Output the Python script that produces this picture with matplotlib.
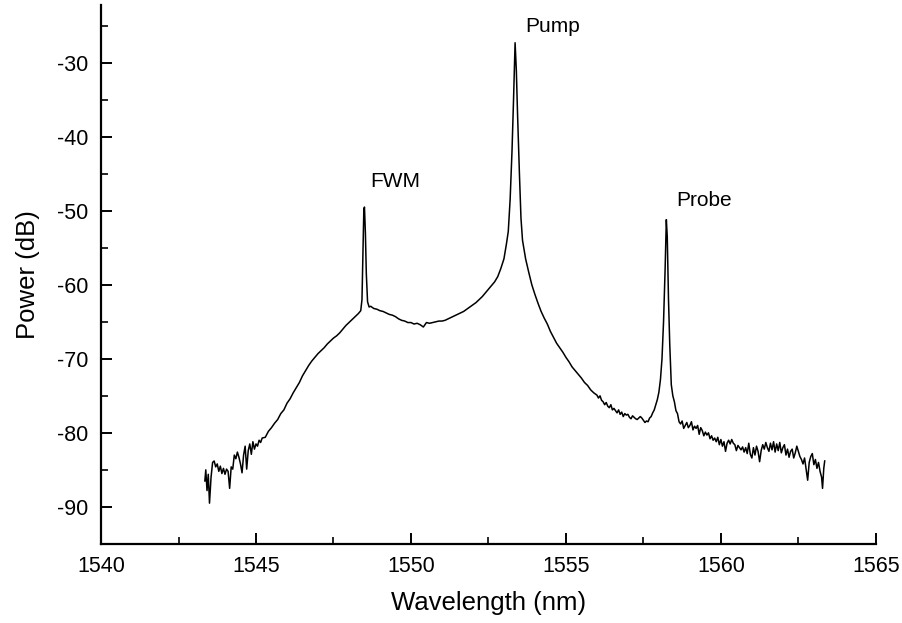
import numpy as np
import matplotlib
matplotlib.use("Agg")
import matplotlib.pyplot as plt
from matplotlib.ticker import MultipleLocator

# ─── Spectrum ────────────────────────────────────────────────────────────────

wavelength = [
    1543.35, 1543.38, 1543.42, 1543.46, 1543.50, 1543.55, 1543.60, 1543.65, 1543.70, 1543.75,
    1543.80, 1543.85, 1543.90, 1543.95, 1544.00, 1544.05, 1544.10, 1544.15, 1544.20, 1544.25,
    1544.30, 1544.35, 1544.40, 1544.45, 1544.50, 1544.55, 1544.60, 1544.65, 1544.70, 1544.75,
    1544.80, 1544.85, 1544.90, 1544.95, 1545.00, 1545.05, 1545.10, 1545.15, 1545.20, 1545.30,
    1545.40, 1545.50, 1545.60, 1545.70, 1545.80, 1545.90, 1546.00, 1546.10, 1546.20, 1546.30,
    1546.40, 1546.50, 1546.60, 1546.70, 1546.80, 1546.90, 1547.00, 1547.10, 1547.20, 1547.30,
    1547.40, 1547.50, 1547.60, 1547.70, 1547.80, 1547.90, 1548.00, 1548.10, 1548.20, 1548.30,
    1548.38, 1548.42, 1548.45, 1548.48, 1548.50, 1548.53, 1548.56, 1548.60, 1548.65, 1548.70,
    1548.80, 1548.90, 1549.00, 1549.10, 1549.20, 1549.30, 1549.40, 1549.50, 1549.60, 1549.70,
    1549.80, 1549.90, 1550.00, 1550.10, 1550.20, 1550.30, 1550.40, 1550.45, 1550.50, 1550.60,
    1550.70, 1550.80, 1550.90, 1551.00, 1551.10, 1551.20, 1551.30, 1551.40, 1551.50, 1551.60,
    1551.70, 1551.80, 1551.90, 1552.00, 1552.10, 1552.20, 1552.30, 1552.40, 1552.50, 1552.60,
    1552.70, 1552.80, 1552.90, 1553.00, 1553.08, 1553.14, 1553.20, 1553.26, 1553.31, 1553.36,
    1553.40, 1553.44, 1553.50, 1553.55, 1553.60, 1553.70, 1553.80, 1553.90, 1554.00, 1554.10,
    1554.20, 1554.30, 1554.40, 1554.50, 1554.60, 1554.70, 1554.80, 1554.90, 1555.00, 1555.10,
    1555.20, 1555.30, 1555.40, 1555.50, 1555.60, 1555.70, 1555.80, 1555.90, 1556.00, 1556.05,
    1556.10, 1556.15, 1556.20, 1556.25, 1556.30, 1556.35, 1556.40, 1556.45, 1556.50, 1556.55,
    1556.60, 1556.65, 1556.70, 1556.75, 1556.80, 1556.85, 1556.90, 1556.95, 1557.00, 1557.05,
    1557.10, 1557.15, 1557.20, 1557.25, 1557.30, 1557.35, 1557.40, 1557.45, 1557.50, 1557.55,
    1557.60, 1557.65, 1557.70, 1557.75, 1557.80, 1557.85, 1557.90, 1557.95, 1558.00, 1558.05,
    1558.10, 1558.15, 1558.20, 1558.24, 1558.27, 1558.31, 1558.35, 1558.40, 1558.45, 1558.50,
    1558.55, 1558.60, 1558.65, 1558.70, 1558.75, 1558.80, 1558.85, 1558.90, 1558.95, 1559.00,
    1559.05, 1559.10, 1559.15, 1559.20, 1559.25, 1559.30, 1559.35, 1559.40, 1559.45, 1559.50,
    1559.55, 1559.60, 1559.65, 1559.70, 1559.75, 1559.80, 1559.85, 1559.90, 1559.95, 1560.00,
    1560.05, 1560.10, 1560.15, 1560.20, 1560.25, 1560.30, 1560.35, 1560.40, 1560.45, 1560.50,
    1560.55, 1560.60, 1560.65, 1560.70, 1560.75, 1560.80, 1560.85, 1560.90, 1560.95, 1561.00,
    1561.05, 1561.10, 1561.15, 1561.20, 1561.25, 1561.30, 1561.35, 1561.40, 1561.45, 1561.50,
    1561.55, 1561.60, 1561.65, 1561.70, 1561.75, 1561.80, 1561.85, 1561.90, 1561.95, 1562.00,
    1562.05, 1562.10, 1562.15, 1562.20, 1562.25, 1562.30, 1562.35, 1562.40, 1562.45, 1562.50,
    1562.55, 1562.60, 1562.65, 1562.70, 1562.75, 1562.80, 1562.85, 1562.90, 1562.95, 1563.00,
    1563.05, 1563.10, 1563.15, 1563.20, 1563.25, 1563.28, 1563.32, 1563.35,
]

power_db = [
    -86.5, -85.0, -87.8, -85.6, -89.5, -86.0, -84.0, -83.8, -84.6, -84.2,
    -85.2, -84.5, -85.5, -84.8, -85.6, -84.9, -85.2, -87.5, -84.6, -84.9,
    -83.0, -83.5, -82.6, -83.3, -84.2, -85.4, -83.0, -81.8, -84.9, -82.4,
    -81.5, -82.9, -81.2, -82.2, -81.5, -81.8, -81.0, -81.3, -80.7, -80.6,
    -79.8, -79.3, -78.7, -78.2, -77.4, -76.9, -76.0, -75.4, -74.6, -73.9,
    -73.2, -72.3, -71.6, -70.9, -70.3, -69.8, -69.3, -68.9, -68.5, -68.0,
    -67.6, -67.2, -66.9, -66.5, -66.0, -65.5, -65.1, -64.7, -64.3, -63.9,
    -63.5, -62.0, -56.0, -49.8, -49.5, -53.0, -58.5, -62.3, -63.0, -62.9,
    -63.2, -63.3, -63.5, -63.6, -63.8, -64.0, -64.1, -64.3, -64.6, -64.8,
    -64.9, -65.1, -65.1, -65.3, -65.2, -65.4, -65.7, -65.4, -65.1, -65.2,
    -65.1, -65.0, -64.9, -64.9, -64.8, -64.6, -64.4, -64.2, -64.0, -63.8,
    -63.6, -63.3, -63.0, -62.7, -62.4, -62.0, -61.6, -61.1, -60.6, -60.1,
    -59.6, -58.9, -57.8, -56.5, -54.5, -52.8, -48.5, -42.0, -35.0, -27.3,
    -31.0, -37.0, -45.0, -51.0, -54.0, -56.5, -58.3, -60.0, -61.3, -62.5,
    -63.6, -64.5, -65.3, -66.3, -67.1, -67.9, -68.5, -69.1, -69.8, -70.4,
    -71.1, -71.6, -72.1, -72.6, -73.2, -73.6, -74.2, -74.6, -74.9, -75.3,
    -75.0, -75.6, -75.8, -76.2, -75.9, -76.4, -76.6, -76.2, -76.9, -76.7,
    -77.0, -77.3, -76.9, -77.5, -77.2, -77.8, -77.4, -77.6, -77.5, -77.9,
    -78.1, -77.7, -77.9, -78.1, -78.2, -78.0, -77.8, -78.0, -78.3, -78.6,
    -78.4, -78.5, -78.0, -77.8, -77.3, -76.9, -76.2, -75.5, -74.5, -72.8,
    -70.0, -65.0, -58.0, -51.2, -53.5, -62.0, -68.0, -73.5, -75.0, -75.8,
    -77.0, -77.4, -78.5, -78.8, -78.4, -79.4, -79.0, -78.6, -79.3, -79.0,
    -78.5, -79.6, -79.1, -79.4, -79.0, -80.2, -79.3, -79.7, -80.4, -79.9,
    -80.3, -80.0, -80.8, -80.4, -81.0, -80.7, -81.2, -80.6, -81.6, -80.9,
    -81.8, -81.2, -82.5, -81.4, -81.0, -81.5, -80.9, -81.4, -81.6, -82.4,
    -81.7, -82.0, -82.3, -81.9, -82.6, -82.0, -82.8, -81.4, -82.9, -83.4,
    -82.0, -83.0, -81.8, -82.5, -83.9, -82.4, -81.6, -82.2, -81.3, -82.0,
    -82.5, -81.4, -82.3, -81.2, -82.6, -81.5, -82.4, -81.3, -82.7, -82.0,
    -81.6, -83.0, -82.2, -83.3, -82.5, -82.2, -83.4, -82.7, -81.8, -82.5,
    -83.2, -83.6, -84.2, -83.4, -84.9, -86.4, -84.0, -83.2, -82.8, -84.3,
    -83.6, -84.8, -84.0, -85.2, -86.0, -87.5, -84.8, -83.8,
]

peak_labels = ["FWM", "Pump", "Probe"]
label_x = [1548.68, 1553.68, 1558.55]
label_y = [-46.8, -25.9, -49.3]

# ─── Figure ──────────────────────────────────────────────────────────────────

plt.rcParams["font.family"] = ["Liberation Sans", "DejaVu Sans"]
plt.rcParams["axes.unicode_minus"] = False

fig = plt.figure(figsize=(9.02, 6.23), dpi=100)
ax = fig.add_axes([0.112, 0.127, 0.859, 0.865])

ax.plot(wavelength, power_db, color="black", lw=1.1)

for txt, x, y in zip(peak_labels, label_x, label_y):
    ax.text(x, y, txt, fontsize=15, ha="left", va="baseline")

ax.set_xlim(1540, 1565)
ax.set_ylim(-95, -22.2)
ax.xaxis.set_major_locator(MultipleLocator(5))
ax.xaxis.set_minor_locator(MultipleLocator(2.5))
ax.yaxis.set_major_locator(MultipleLocator(10))
ax.yaxis.set_minor_locator(MultipleLocator(5))

for side in ("top", "right"):
    ax.spines[side].set_visible(False)
for side in ("left", "bottom"):
    ax.spines[side].set_linewidth(1.6)

ax.tick_params(which="major", direction="in", length=8, width=1.4,
               labelsize=15.5, pad=9)
ax.tick_params(which="minor", direction="in", length=5, width=1.2)

ax.set_xlabel("Wavelength (nm)", fontsize=18.5, labelpad=10)
ax.set_ylabel("Power (dB)", fontsize=18.5, labelpad=12)

fig.savefig("out.png", dpi=100)
